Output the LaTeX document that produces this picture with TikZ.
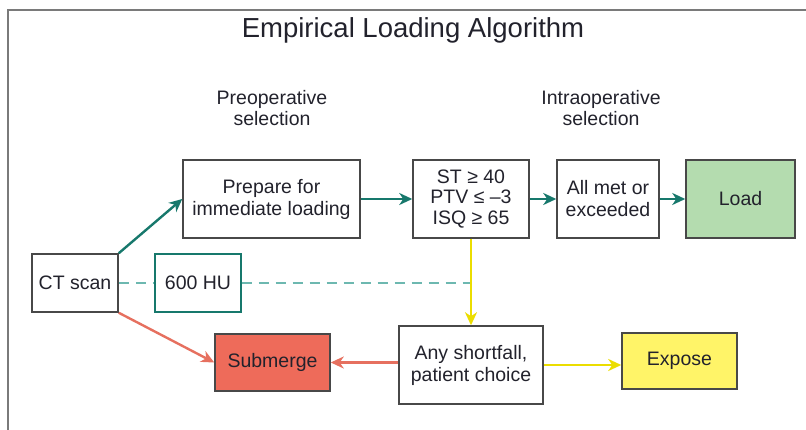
\documentclass[tikz,border=0pt]{standalone}
\usepackage{fontspec}
\setmainfont{Liberation Sans}
\usetikzlibrary{arrows.meta}

\definecolor{boxline}{HTML}{484848}
\definecolor{inkgray}{HTML}{22222C}
\definecolor{frameline}{HTML}{7A7A7A}
\definecolor{tealline}{HTML}{17786C}
\definecolor{tealdash}{HTML}{6DB8B0}
\definecolor{redline}{HTML}{E6705F}
\definecolor{redfill}{HTML}{EE6B5A}
\definecolor{greenfill}{HTML}{B4DCAF}
\definecolor{yellowline}{HTML}{EBDD00}
\definecolor{yellowfill}{HTML}{FFF468}

\tikzset{
  stagebox/.style={draw=boxline, line width=1.5pt, fill=white, text=inkgray,
    align=center, inner sep=0pt,
    font=\fontsize{19.5}{22}\selectfont},
  headtext/.style={text=inkgray, align=center,
    font=\fontsize{19.5}{20.5}\selectfont},
  flowarrow/.style={line width=2.4pt,
    -{Stealth[length=13pt, width=12pt, inset=4pt]}},
  tealflow/.style={flowarrow, draw=tealline},
  redflow/.style={flowarrow, draw=redline},
  yellowflow/.style={flowarrow, draw=yellowline},
  hudash/.style={draw=tealdash, line width=2.2pt, dash pattern=on 10pt off 7pt}
}

\begin{document}
\begin{tikzpicture}[x=1pt, y=-1pt]
  \useasboundingbox (0,0) rectangle (806,430);

  % open frame: top and left edges
  \draw[frameline, line width=2pt] (806,10) -- (8,10) -- (8,430);

  % title and column headings
  \node[text=inkgray, font=\fontsize{27.5}{30}\selectfont, anchor=base]
    (title) at (413,38) {Empirical Loading Algorithm};
  \node[headtext] (preop) at (272,108) {Preoperative\\selection};
  \node[headtext] (intraop) at (601,108) {Intraoperative\\selection};

  % boxes
  \node[stagebox, minimum width=177pt, minimum height=78pt]
    (prep) at (271.5,199) {Prepare for\\immediate loading};
  \node[stagebox, minimum width=116pt, minimum height=78pt,
        font=\fontsize{19.5}{20.5}\selectfont]
    (crit) at (471,199) {ST ≥ 40\\PTV ≤ –3\\ISQ ≥ 65};
  \node[stagebox, minimum width=102pt, minimum height=78pt]
    (allmet) at (608,199) {All met or\\exceeded};
  \node[stagebox, minimum width=109pt, minimum height=78pt, fill=greenfill]
    (load) at (740.5,199) {Load};
  \node[stagebox, minimum width=86pt, minimum height=58pt]
    (ct) at (75,283) {CT scan};
  \node[stagebox, draw=tealline, line width=1.3pt,
        minimum width=86pt, minimum height=58pt]
    (hu) at (198,283) {600 HU};
  \node[stagebox, minimum width=115pt, minimum height=57pt, fill=redfill]
    (sub) at (272.5,362.5) {Submerge};
  \node[stagebox, minimum width=144pt, minimum height=78pt]
    (any) at (471,365) {Any shortfall,\\patient choice};
  \node[stagebox, minimum width=115pt, minimum height=56pt, fill=yellowfill]
    (exp) at (679.5,361) {Expose};

  % meeting point of the threshold line with the shortfall path
  \coordinate (join) at (crit.south |- ct.east);

  % threshold line
  \draw[hudash] (ct.east) -- (hu.west);
  \draw[hudash] (hu.east) -- (join);

  % connectors
  \draw[tealflow] (ct.north east) -- (prep.west);
  \draw[tealflow] (prep.east) -- (crit.west);
  \draw[tealflow] (crit.east) -- (allmet.west);
  \draw[tealflow] (allmet.east) -- (load.west);
  \draw[redflow] (ct.south east) -- (sub.west);
  \draw[yellowflow] (crit.south) -- (any.north);
  \draw[redflow] (sub.east -| any.west) -- (sub.east);
  \draw[yellowflow] (any.east) -- (any.east -| exp.west);
\end{tikzpicture}
\end{document}
